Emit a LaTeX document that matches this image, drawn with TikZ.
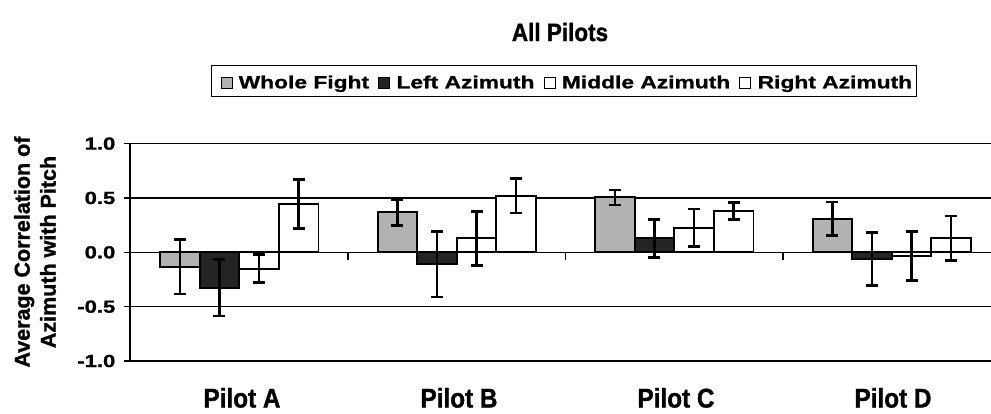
\documentclass[tikz,border=0pt]{standalone}
\usepackage{fontspec}
\setmainfont{Liberation Sans}
\newfontfamily\tickfont[FakeStretch=1.26,FakeBold=1.2]{Liberation Sans Bold}
\newfontfamily\legfont[FakeStretch=1.295,FakeBold=1.2]{Liberation Sans Bold}
\newfontfamily\catfont[FakeStretch=0.9,FakeBold=1.2]{Liberation Sans Bold}
\newfontfamily\axfont[FakeBold=1.2]{Liberation Sans Bold}
\definecolor{wfc}{HTML}{B2B2B2}
\definecolor{lac}{HTML}{242424}
\begin{document}
\begin{tikzpicture}[x=1pt,y=-1pt,
  bar/.style={draw=black,line width=1.9pt},
  wf/.style={bar,fill=wfc},
  la/.style={bar,fill=lac},
  ma/.style={bar,fill=white},
  ra/.style={bar,fill=white},
  err/.style={draw=black,line width=2.6pt},
  grid/.style={draw=black,line width=1.2pt},
  ticklab/.style={font=\fontsize{17.5}{20}\tickfont,inner sep=0pt},
  leglab/.style={font=\fontsize{17.6}{20}\legfont,inner sep=0pt},
  cat/.style={font=\fontsize{27}{30}\catfont,inner sep=0pt},
  lsq/.style={draw=black,line width=1pt,minimum width=11pt,minimum height=11pt,inner sep=0pt},
]
\useasboundingbox (0,0) rectangle (991,413);
\def\yz{252.3}
\def\yu{108.7}
% gridlines
\foreach \k in {1,0.5,-0.5,-1}
  \draw[grid] (130,{\yz-\k*\yu}) -- (991,{\yz-\k*\yu});
% y axis and ticks
\draw[grid] (130,{\yz-\yu}) -- (130,{\yz+\yu});
\foreach \k/\t in {1/1.0,0.5/0.5,0/0.0,-0.5/-0.5,-1/-1.0}{
  \draw[grid] (124,{\yz-\k*\yu}) -- (130,{\yz-\k*\yu});
  \node[ticklab,anchor=east] (yl\t) at (115.5,{\yz-\k*\yu}) {\t};
}
% zero axis and category ticks
\draw[grid] (130,\yz) -- (991,\yz);
\foreach \k in {1,2,3}
  \draw[grid] ({130.5+217.5*\k},\yz) -- ({130.5+217.5*\k},{\yz+8});
% bars
\newcommand\drawseries[3]{%
  \foreach \v/\e [count=\i from 0] in #3{
    \pgfmathsetmacro\xl{130.5+217.5*\i+29.55+39.6*#1}
    \draw[#2] (\xl,\yz) rectangle ({\xl+39.6},{\yz-\v*\yu});
  }}
\newcommand\drawerr[2]{%
  \foreach \v/\e [count=\i from 0] in #2{
    \pgfmathsetmacro\xc{130.5+217.5*\i+29.55+39.6*#1+19.8}
    \pgfmathsetmacro\yt{\yz-(\v+\e)*\yu}
    \pgfmathsetmacro\yb{\yz-(\v-\e)*\yu}
    \draw[err] (\xc,\yt) -- (\xc,\yb);
    \draw[err] ({\xc-6},\yt) -- ({\xc+6},\yt);
    \draw[err] ({\xc-6},\yb) -- ({\xc+6},\yb);
  }}
\def\sWF{-0.132/0.25,0.367/0.12,0.505/0.068,0.31/0.153}
\def\sLA{-0.326/0.26,-0.11/0.30,0.128/0.175,-0.06/0.243}
\def\sMA{-0.15/0.128,0.128/0.248,0.226/0.172,-0.035/0.225}
\def\sRA{0.445/0.226,0.52/0.16,0.38/0.077,0.128/0.205}
\drawseries{0}{wf}{\sWF}
\drawseries{1}{la}{\sLA}
\drawseries{2}{ma}{\sMA}
\drawseries{3}{ra}{\sRA}
\drawerr{0}{\sWF}
\drawerr{1}{\sLA}
\drawerr{2}{\sMA}
\drawerr{3}{\sRA}
% category labels
\node[cat,anchor=base] (pa) at (242,407.5) {Pilot A};
\node[cat,anchor=base] (pb) at (459,407.5) {Pilot B};
\node[cat,anchor=base] (pc) at (676,407.5) {Pilot C};
\node[cat,anchor=base] (pd) at (893,407.5) {Pilot D};
% y axis title
\node[rotate=90,align=center,inner sep=0pt,font=\fontsize{21.5}{26}\axfont] (ytitle) at (35,252) {Average Correlation of\\Azimuth with Pitch};
% title
\node[inner sep=0pt,anchor=base,font=\fontsize{25}{28}\catfont] (title) at (560,41) {All Pilots};
% legend
\draw[line width=1pt] (211,65) rectangle (916,96);
\node[lsq,fill=wfc,anchor=west] (k1) at (220.5,82.5) {};
\node[leglab,anchor=base west] (t1) at ([xshift=6pt]k1.east |- 0,88.3) {Whole Fight};
\node[lsq,fill=lac,anchor=west] (k2) at ([xshift=9pt]t1.east |- k1.west) {};
\node[leglab,anchor=base west] (t2) at ([xshift=6pt]k2.east |- 0,88.3) {Left Azimuth};
\node[lsq,fill=white,anchor=west] (k3) at ([xshift=9pt]t2.east |- k1.west) {};
\node[leglab,anchor=base west] (t3) at ([xshift=6pt]k3.east |- 0,88.3) {Middle Azimuth};
\node[lsq,fill=white,anchor=west] (k4) at ([xshift=9pt]t3.east |- k1.west) {};
\node[leglab,anchor=base west] (t4) at ([xshift=6pt]k4.east |- 0,88.3) {Right Azimuth};
\end{tikzpicture}
\end{document}
